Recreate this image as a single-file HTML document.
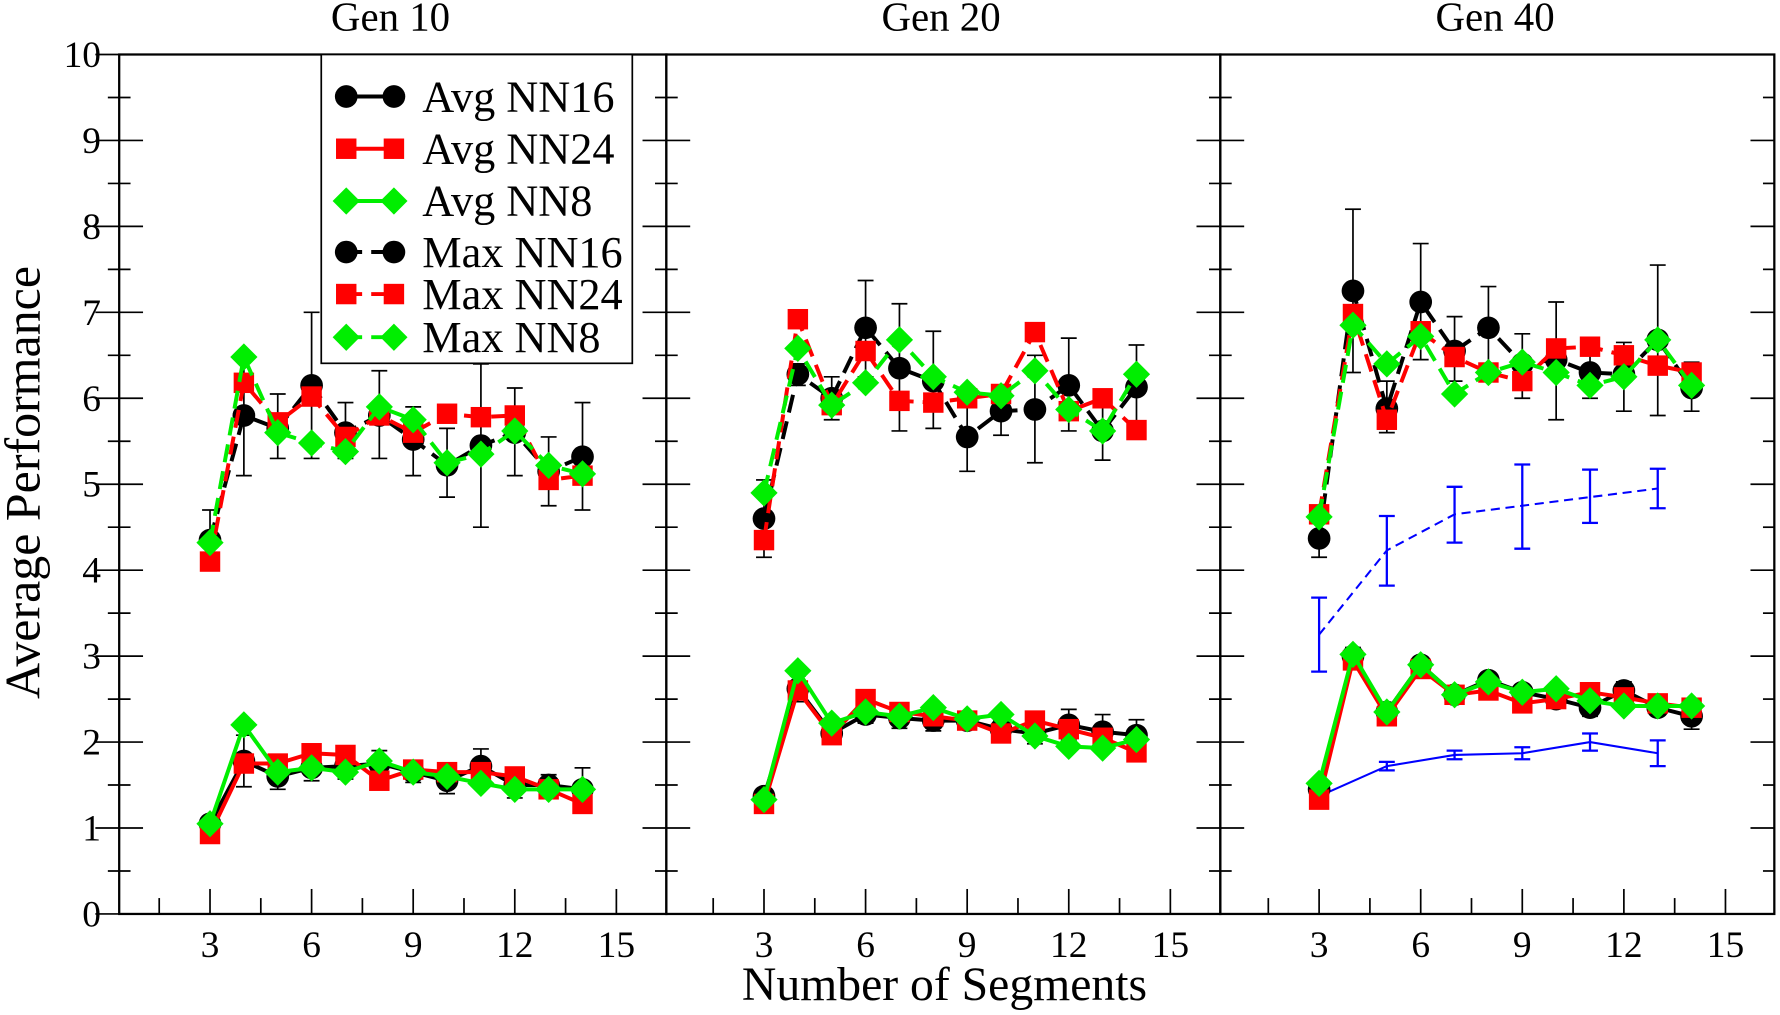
<!DOCTYPE html>
<html><head><meta charset="utf-8"><style>
html,body{margin:0;padding:0;background:#fff;}
svg{display:block;font-family:"Liberation Serif",serif;}
</style></head><body>
<svg id="chart" width="1780" height="1015" viewBox="0 0 1568 894" preserveAspectRatio="none" xmlns="http://www.w3.org/2000/svg">
<rect x="0" y="0" width="1568" height="894" fill="#fff"/>
<g id="plots"></g>
<text x="20" y="425" transform="rotate(-90 20 425)" text-anchor="middle" dominant-baseline="central" font-size="44">Average Performance</text>
<text x="832" y="881" text-anchor="middle" font-size="42">Number of Segments</text>
</svg>
<script>
const xs = [3,4,5,6,7,8,9,10,11,12,13,14];
const panelTitles = ["Gen 10","Gen 20","Gen 40"];
// Gen 10
const g10AvgNN16 = [1.05,1.78,1.6,1.7,1.72,1.75,1.65,1.55,1.72,1.5,1.5,1.45];
const g10AvgNN24 = [0.93,1.75,1.75,1.87,1.85,1.55,1.68,1.65,1.65,1.6,1.45,1.28];
const g10AvgNN8  = [1.05,2.2,1.65,1.7,1.65,1.78,1.65,1.6,1.52,1.45,1.45,1.45];
const g10MaxNN16 = [4.35,5.8,5.65,6.15,5.6,5.8,5.52,5.22,5.45,5.6,5.15,5.32];
const g10MaxNN24 = [4.1,6.18,5.72,6.02,5.55,5.8,5.6,5.82,5.78,5.8,5.05,5.1];
const g10MaxNN8  = [4.32,6.48,5.6,5.48,5.38,5.9,5.75,5.25,5.35,5.62,5.22,5.12];
const g10MaxLo = [4.0,5.1,5.3,5.3,5.3,5.3,5.1,4.85,4.5,5.1,4.75,4.7];
const g10MaxHi = [4.7,6.5,6.05,7.0,5.95,6.32,5.9,5.65,6.4,6.12,5.55,5.95];
const g10AvgErr = [0.08,0.3,0.15,0.15,0.15,0.15,0.12,0.15,0.2,0.15,0.12,0.25];
// Gen 20
const g20AvgNN16 = [1.37,2.62,2.1,2.32,2.28,2.25,2.25,2.15,2.1,2.2,2.12,2.08];
const g20AvgNN24 = [1.28,2.6,2.08,2.5,2.35,2.3,2.25,2.1,2.25,2.15,2.05,1.88];
const g20AvgNN8  = [1.33,2.83,2.22,2.35,2.3,2.4,2.27,2.32,2.07,1.95,1.93,2.03];
const g20MaxNN16 = [4.6,6.28,6.0,6.82,6.35,6.2,5.55,5.85,5.87,6.15,5.62,6.13];
const g20MaxNN24 = [4.35,6.92,5.92,6.55,5.97,5.95,6.0,6.05,6.77,5.85,6.0,5.63];
const g20MaxNN8  = [4.9,6.58,5.92,6.18,6.68,6.25,6.07,6.03,6.32,5.87,5.62,6.28];
const g20MaxLo = [4.15,6.15,5.75,6.25,5.62,5.65,5.15,5.57,5.25,5.62,5.28,5.65];
const g20MaxHi = [5.05,6.4,6.25,7.37,7.1,6.78,5.95,6.15,6.5,6.7,5.95,6.62];
const g20AvgErr = [0.08,0.15,0.12,0.1,0.12,0.12,0.1,0.1,0.12,0.18,0.2,0.18];
// Gen 40
const g40AvgNN16 = [1.45,3.0,2.35,2.9,2.55,2.72,2.58,2.5,2.4,2.6,2.4,2.3];
const g40AvgNN24 = [1.33,2.95,2.3,2.85,2.55,2.6,2.45,2.5,2.58,2.52,2.45,2.4];
const g40AvgNN8  = [1.52,3.02,2.35,2.9,2.55,2.7,2.58,2.62,2.48,2.42,2.42,2.42];
const g40MaxNN16 = [4.37,7.25,5.88,7.12,6.55,6.82,6.4,6.45,6.3,6.28,6.68,6.12];
const g40MaxNN24 = [4.65,6.98,5.75,6.78,6.48,6.3,6.2,6.58,6.6,6.5,6.38,6.3];
const g40MaxNN8  = [4.62,6.85,6.4,6.72,6.05,6.3,6.42,6.3,6.15,6.25,6.68,6.15];
const g40MaxLo = [4.15,6.3,5.6,6.45,6.2,6.35,6.0,5.75,6.0,5.85,5.8,5.85];
const g40MaxHi = [4.6,8.2,6.2,7.8,6.95,7.3,6.75,7.12,6.6,6.65,7.55,6.42];
const g40AvgErr = [0.05,0.1,0.08,0.08,0.08,0.08,0.08,0.08,0.1,0.1,0.08,0.15];
const blueX = [3,5,7,9,11,13];
const blueDashed = [3.25,4.23,4.65,4.75,4.85,4.95];
const blueDashedLo = [2.82,3.82,4.32,4.25,4.55,4.72];
const blueDashedHi = [3.68,4.63,4.97,5.23,5.17,5.18];
const blueSolid = [1.37,1.72,1.85,1.87,2.0,1.87];
const blueSolidErr = [0.05,0.05,0.05,0.07,0.1,0.15];
const yTicks = [0,1,2,3,4,5,6,7,8,9,10];
const xTicks = [3,6,9,12,15];

const NS = "http://www.w3.org/2000/svg";
const root = document.getElementById('plots');
const TOP = 48, BOT = 805;
const yS = v => BOT - (BOT-TOP)*v/10;
const panels = [{l:105,r:587,x3:185},{l:587,r:1075,x3:673},{l:1075,r:1563,x3:1162}];
const PXU = 29.83;
function mk(tag, attrs, parent){ const e=document.createElementNS(NS,tag); for(const k in attrs) e.setAttribute(k,attrs[k]); (parent||root).appendChild(e); return e; }
const COL = {k:"#000",r:"#ff0000",g:"#00ee00",b:"#0000ff"};
function marker(g, type, cx, cy, color){
  let m;
  if(type==='c') m=mk('circle',{cx:cx,cy:cy,r:10,fill:color},g);
  else if(type==='s') m=mk('rect',{x:cx-9,y:cy-9,width:18,height:18,fill:color},g);
  else m=mk('polygon',{points:`${cx},${cy-12} ${cx+12},${cy} ${cx},${cy+12} ${cx-12},${cy}`,fill:color},g);
  
  
}
function errbar(g, x, lo, hi, color, w){
  mk('line',{x1:x,x2:x,y1:yS(lo),y2:yS(hi),stroke:color,'stroke-width':w||1.5},g);
  mk('line',{x1:x-7,x2:x+7,y1:yS(lo),y2:yS(lo),stroke:color,'stroke-width':w||1.5},g);
  mk('line',{x1:x-7,x2:x+7,y1:yS(hi),y2:yS(hi),stroke:color,'stroke-width':w||1.5},g);
}
function series(p, xarr, vals, color, type, dashed, name, width){
  const g = mk('g',{},root);
  
  
  const xf = x => p.x3 + (x-3)*PXU;
  const pts = xarr.map((x,i)=>xf(x)+','+yS(vals[i])).join(' ');
  const a = {points:pts,fill:'none',stroke:color,'stroke-width':width||3.5};
  if(dashed) a['stroke-dasharray']= type==='n' ? '8,5' : '16,8';
  mk('polyline',a,g);
  if(type!=='n') xarr.forEach((x,i)=>marker(g,type,xf(x),yS(vals[i]),color));
  return g;
}
const data = [
 [g10AvgNN16,g10AvgNN24,g10AvgNN8,g10MaxNN16,g10MaxNN24,g10MaxNN8,g10MaxLo,g10MaxHi,g10AvgErr],
 [g20AvgNN16,g20AvgNN24,g20AvgNN8,g20MaxNN16,g20MaxNN24,g20MaxNN8,g20MaxLo,g20MaxHi,g20AvgErr],
 [g40AvgNN16,g40AvgNN24,g40AvgNN8,g40MaxNN16,g40MaxNN24,g40MaxNN8,g40MaxLo,g40MaxHi,g40AvgErr]];
panels.forEach((p,pi)=>{
  const xf = x => p.x3 + (x-3)*PXU;
  const fr = mk('rect',{x:p.l,y:TOP,width:p.r-p.l,height:BOT-TOP,fill:'none',stroke:'#000','stroke-width':2});
  
  
  const t = mk('text',{x:(p.l+p.r)/2-2,y:27,'text-anchor':'middle','font-size':36});
  t.textContent = panelTitles[pi];
  
  
  for(let v=0; v<=10; v+=0.5){
    const y=yS(v), major = Number.isInteger(v), L = major?21:10;
    mk('line',{x1:p.l-L,x2:p.l+L,y1:y,y2:y,stroke:'#000','stroke-width':1.5});
    if(pi===2) mk('line',{x1:p.r-L,x2:p.r,y1:y,y2:y,stroke:'#000','stroke-width':1.5});
  }
  for(let x=1.5; x<=15; x+=1.5){
    const px = xf(x), major = x%3===0, L = major?22:14;
    if(px>p.l+2 && px<p.r-2) mk('line',{x1:px,x2:px,y1:BOT,y2:BOT-L,stroke:'#000','stroke-width':1.5});
  }
  xTicks.forEach(x=>{
    const tl = mk('text',{x:xf(x),y:843,'text-anchor':'middle','font-size':33});
    tl.textContent = x;
    
    
  });
  const d = data[pi];
  const eg = mk('g',{});
  
  
  xs.forEach((x,i)=>{ errbar(eg,xf(x),d[6][i],d[7][i],'#000'); errbar(eg,xf(x),d[0][i]-d[8][i],d[0][i]+d[8][i],'#000'); });
  if(pi===2){
    series(p,blueX,blueDashed,COL.b,'n',true,'blue-dashed-line',1.8);
    series(p,blueX,blueSolid,COL.b,'n',false,'blue-solid-line',1.8);
    const bg = mk('g',{});
    
    
    blueX.forEach((x,i)=>{ errbar(bg,xf(x),blueDashedLo[i],blueDashedHi[i],COL.b,2); errbar(bg,xf(x),blueSolid[i]-blueSolidErr[i],blueSolid[i]+blueSolidErr[i],COL.b,2); });
  }
  series(p,xs,d[0],COL.k,'c',false,'avg-nn16');
  series(p,xs,d[1],COL.r,'s',false,'avg-nn24');
  series(p,xs,d[2],COL.g,'d',false,'avg-nn8');
  series(p,xs,d[3],COL.k,'c',true,'max-nn16');
  series(p,xs,d[4],COL.r,'s',true,'max-nn24');
  series(p,xs,d[5],COL.g,'d',true,'max-nn8');
});
yTicks.forEach(v=>{
  const t = mk('text',{x:89,y:yS(v)+11,'text-anchor':'end','font-size':33});
  t.textContent = v;
  
  
});
const lg = mk('g',{});


mk('rect',{x:283,y:48,width:274,height:272,fill:'#fff',stroke:'#000','stroke-width':1.5},lg);
const legNames = ["Avg NN16","Avg NN24","Avg NN8","Max NN16","Max NN24","Max NN8"];
const legY = [85,131,177,222,259,297];
const legSty = [[COL.k,'c',false],[COL.r,'s',false],[COL.g,'d',false],[COL.k,'c',true],[COL.r,'s',true],[COL.g,'d',true]];
legNames.forEach((n,i)=>{
  const e = mk('g',{},lg);
  
  
  const [c,tp,ds] = legSty[i];
  const a={x1:305,x2:347,y1:legY[i],y2:legY[i],stroke:c,'stroke-width':3.5};
  if(ds) a['stroke-dasharray']='14,8';
  mk('line',a,e);
  marker(e,tp,305,legY[i],c); marker(e,tp,347,legY[i],c);
  const t = mk('text',{x:372,y:legY[i]+13,'font-size':39},e);
  t.textContent = n;
});
</script>
</body></html>
